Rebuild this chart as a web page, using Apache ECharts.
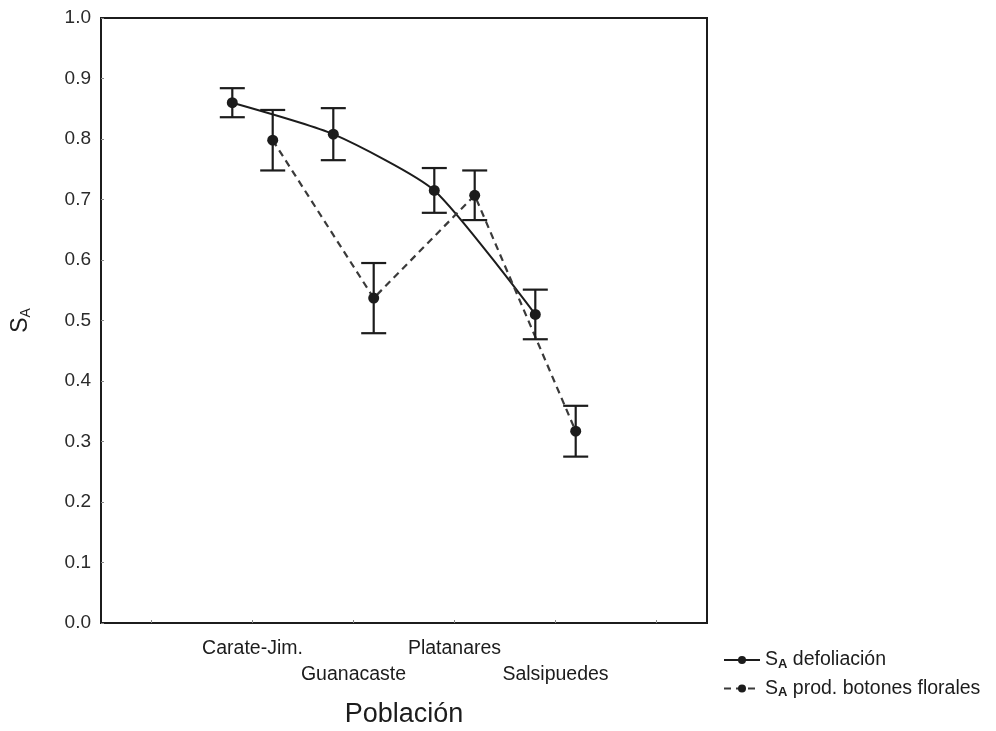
<!DOCTYPE html>
<html>
<head>
<meta charset="utf-8">
<script src="https://cdn.jsdelivr.net/npm/echarts@6/dist/echarts.min.js"></script>
<style>
  html, body { margin: 0; padding: 0; background: #fff; }
  #chart { width: 996px; height: 731px; }
</style>
</head>
<body>
<div id="chart"></div>
<script>
const categories = ['Carate-Jim.', 'Guanacaste', 'Platanares', 'Salsipuedes'];
const yTicks = [0, 0.1, 0.2, 0.3, 0.4, 0.5, 0.6, 0.7, 0.8, 0.9, 1.0];

const defMean = [0.860, 0.808, 0.715, 0.510];
const defErr  = [0.024, 0.043, 0.037, 0.041];
const botMean = [0.798, 0.537, 0.707, 0.317];
const botErr  = [0.050, 0.058, 0.041, 0.042];

const seriesNames = ['defoliación', 'prod. botones florales'];
const OFFSET = 0.2;
// category i is placed at x = i + 1 on the value axis
const pos = i => i + 1;

const defPts = defMean.map((v, i) => [pos(i) - OFFSET, v]);
const botPts = botMean.map((v, i) => [pos(i) + OFFSET, v]);
const defBars = defMean.map((v, i) => [pos(i) - OFFSET, v - defErr[i], v + defErr[i]]);
const botBars = botMean.map((v, i) => [pos(i) + OFFSET, v - botErr[i], v + botErr[i]]);

const INK = '#1c1c1c';
const FONT = 'Liberation Sans';

function errorBarItem(params, api) {
  const x = api.value(0);
  const lo = api.coord([x, api.value(1)]);
  const hi = api.coord([x, api.value(2)]);
  const hw = 12.5;
  const style = { stroke: INK, lineWidth: 2.2, fill: null };
  return {
    type: 'group',
    children: [
      { type: 'line', shape: { x1: lo[0], y1: lo[1], x2: hi[0], y2: hi[1] }, style },
      { type: 'line', shape: { x1: hi[0] - hw, y1: hi[1], x2: hi[0] + hw, y2: hi[1] }, style },
      { type: 'line', shape: { x1: lo[0] - hw, y1: lo[1], x2: lo[0] + hw, y2: lo[1] }, style }
    ]
  };
}

const labelBase = {
  hideOverlap: false,
  showMinLabel: true,
  showMaxLabel: true,
  fontFamily: FONT,
  fontSize: 19.5,
  color: INK,
  formatter: v => categories[Math.round(v) - 1]
};

const chart = echarts.init(document.getElementById('chart'), null, { renderer: 'canvas' });
chart.setOption({
  backgroundColor: '#ffffff',
  animation: false,
  grid: {
    left: 101, right: 289, top: 18, bottom: 108,
    outerBoundsMode: 'none',
    containLabel: false,
    show: true, borderColor: INK, borderWidth: 2, backgroundColor: 'transparent'
  },
  legend: {
    orient: 'vertical',
    left: 718,
    top: 645,
    itemWidth: 36,
    itemHeight: 10,
    itemGap: 8,
    data: seriesNames,
    formatter: name => '{s|S}{sub|A} ' + name,
    textStyle: {
      color: INK,
      fontFamily: FONT,
      fontSize: 19.5,
      rich: {
        s: { fontFamily: FONT, fontSize: 19.5, color: INK },
        sub: { fontFamily: FONT, fontSize: 13, color: INK, fontWeight: 'bold', verticalAlign: 'bottom', padding: [8, 0, 0, 0] }
      }
    }
  },
  xAxis: [
    {
      type: 'value',
      min: -0.5,
      max: 5.5,
      name: 'Población',
      nameLocation: 'middle',
      nameGap: 78,
      nameTextStyle: { fontFamily: FONT, fontSize: 27, color: INK },
      axisLine: { show: true, onZero: false, lineStyle: { color: INK, width: 2 } },
      axisTick: { show: true, inside: true, length: 3, customValues: [0, 1, 2, 3, 4, 5], lineStyle: { color: '#888' } },
      splitLine: { show: false },
      axisLabel: Object.assign({}, labelBase, {
        customValues: categories.map((c, i) => pos(i)).filter((v, i) => i % 2 === 0),
        margin: 16
      })
    },
    {
      type: 'value',
      position: 'bottom',
      min: -0.5,
      max: 5.5,
      axisLine: { show: false, onZero: false },
      axisTick: { show: false },
      splitLine: { show: false },
      axisLabel: Object.assign({}, labelBase, {
        customValues: categories.map((c, i) => pos(i)).filter((v, i) => i % 2 === 1),
        margin: 42
      })
    }
  ],
  yAxis: {
    type: 'value',
    min: 0,
    max: 1,
    interval: 0.1,
    name: '{s|S}{sub|A}',
    nameLocation: 'middle',
    nameGap: 68,
    nameRotate: 90,
    nameTextStyle: {
      fontFamily: FONT,
      fontSize: 23,
      color: INK,
      rich: {
        s: { fontFamily: FONT, fontSize: 23, color: INK },
        sub: { fontFamily: FONT, fontSize: 14, color: INK, verticalAlign: 'bottom', padding: [10, 0, 0, 0] }
      }
    },
    axisLine: { show: true, onZero: false, lineStyle: { color: INK, width: 2 } },
    axisTick: { show: true, inside: true, length: 3, lineStyle: { color: '#888' } },
    splitLine: { show: false },
    axisLabel: {
      margin: 10,
      fontFamily: FONT,
      fontSize: 19,
      color: '#2a2a2a',
      formatter: v => v.toFixed(1)
    }
  },
  series: [
    {
      name: seriesNames[0],
      type: 'line',
      data: defPts,
      smooth: 0.2,
      symbol: 'circle',
      symbolSize: 11,
      itemStyle: { color: INK },
      lineStyle: { color: INK, width: 2 },
      z: 3
    },
    {
      name: seriesNames[1],
      type: 'line',
      data: botPts,
      symbol: 'circle',
      symbolSize: 11,
      itemStyle: { color: INK },
      lineStyle: { color: '#3a3a3a', width: 2.2, type: [7, 5] },
      z: 3
    },
    {
      type: 'custom',
      renderItem: errorBarItem,
      data: defBars,
      encode: { x: 0, y: [1, 2] },
      silent: true,
      z: 4
    },
    {
      type: 'custom',
      renderItem: errorBarItem,
      data: botBars,
      encode: { x: 0, y: [1, 2] },
      silent: true,
      z: 4
    }
  ]
});
</script>
</body>
</html>
